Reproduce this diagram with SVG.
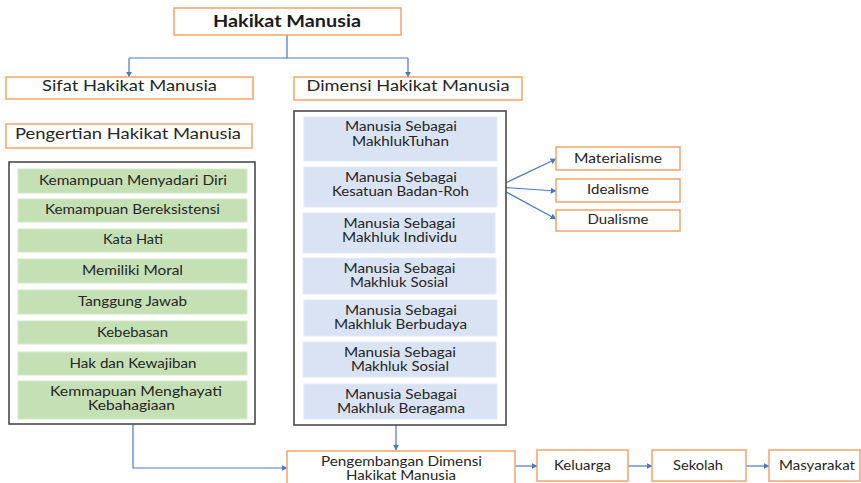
<svg xmlns="http://www.w3.org/2000/svg" width="861" height="483" viewBox="0 0 861 483">
<style>
text{font-family:Lato,"Open Sans","Liberation Sans",sans-serif;font-size:12.5px;fill:#262626;text-anchor:middle}
.t{font-size:16px}
.h{font-size:17px;font-weight:bold;fill:#1a1a1a}
.ob{fill:#fff;stroke:#F4A46A;stroke-width:1.5}
.cb{fill:#fff;stroke:#4a4a4a;stroke-width:1.6}
.gb{fill:#C5E0B4;stroke:#D6E9CA;stroke-width:1}
.bb{fill:#DAE3F3;stroke:#E4EBF7;stroke-width:1}
.c{fill:none;stroke:#4A78C8;stroke-width:1.2}
</style>
<defs>
<marker id="a" viewBox="0 0 10 10" refX="9" refY="5" markerWidth="6" markerHeight="6" orient="auto" markerUnits="userSpaceOnUse"><path d="M0,0 L10,5 L0,10 z" fill="#4A78C8"/></marker>
</defs>

<g id="connectors">
<path class="c" d="M287,35 V58 M129,58 H408"/>
<path class="c" d="M129,58 V77" marker-end="url(#a)"/>
<path class="c" d="M408,58 V77" marker-end="url(#a)"/>
<path class="c" d="M497,187 L556,159" marker-end="url(#a)"/>
<path class="c" d="M497,187 L556,191" marker-end="url(#a)"/>
<path class="c" d="M497,187 L556,219" marker-end="url(#a)"/>
<path class="c" d="M396,425 V450" marker-end="url(#a)"/>
<path class="c" d="M133,424 V468 H287" marker-end="url(#a)"/>
<path class="c" d="M515,466 H537" marker-end="url(#a)"/>
<path class="c" d="M628,466 H652" marker-end="url(#a)"/>
<path class="c" d="M746,466 H769" marker-end="url(#a)"/>
</g>

<g id="hakikat"><rect class="ob" x="174" y="8" width="227" height="27"/><text class="h" x="287" y="27" textLength="148" lengthAdjust="spacingAndGlyphs">Hakikat Manusia</text></g>
<g id="sifat"><rect class="ob" x="6" y="77" width="247" height="22"/><text class="t" x="129.5" y="91" textLength="175" lengthAdjust="spacingAndGlyphs">Sifat Hakikat Manusia</text></g>
<g id="dimensi"><rect class="ob" x="294" y="77" width="228" height="23"/><text class="t" x="408" y="91" textLength="203" lengthAdjust="spacingAndGlyphs">Dimensi Hakikat Manusia</text></g>
<g id="pengertian"><rect class="ob" x="6" y="124" width="246" height="24"/><text class="t" x="128" y="139" textLength="226" lengthAdjust="spacingAndGlyphs">Pengertian  Hakikat Manusia</text></g>

<g id="sifat-list">
<rect class="cb" x="9" y="162" width="246" height="262"/>
<g id="g1"><rect class="gb" x="18" y="169" width="229" height="24"/><text x="133" y="185" textLength="188" lengthAdjust="spacingAndGlyphs">Kemampuan Menyadari Diri</text></g>
<g id="g2"><rect class="gb" x="18" y="199" width="229" height="23"/><text x="132.5" y="214" textLength="175" lengthAdjust="spacingAndGlyphs">Kemampuan Bereksistensi</text></g>
<g id="g3"><rect class="gb" x="18" y="229" width="229" height="23"/><text x="133" y="244" textLength="60" lengthAdjust="spacingAndGlyphs">Kata Hati</text></g>
<g id="g4"><rect class="gb" x="18" y="259" width="229" height="24"/><text x="132.5" y="275" textLength="101" lengthAdjust="spacingAndGlyphs">Memiliki Moral</text></g>
<g id="g5"><rect class="gb" x="18" y="290" width="229" height="24"/><text x="132.5" y="306" textLength="109" lengthAdjust="spacingAndGlyphs">Tanggung Jawab</text></g>
<g id="g6"><rect class="gb" x="18" y="321" width="229" height="23"/><text x="132.5" y="337" textLength="71" lengthAdjust="spacingAndGlyphs">Kebebasan</text></g>
<g id="g7"><rect class="gb" x="18" y="352" width="229" height="23"/><text x="133" y="368" textLength="127" lengthAdjust="spacingAndGlyphs">Hak dan Kewajiban</text></g>
<g id="g8"><rect class="gb" x="18" y="381" width="229" height="38"/><text x="136" y="396" textLength="172" lengthAdjust="spacingAndGlyphs">Kemmapuan Menghayati</text><text x="131.5" y="410" textLength="87" lengthAdjust="spacingAndGlyphs">Kebahagiaan</text></g>
</g>

<g id="dimensi-list">
<rect class="cb" x="294" y="111" width="212" height="314"/>
<g id="b1"><rect class="bb" x="304" y="117" width="193" height="44"/><text x="401" y="131" textLength="112" lengthAdjust="spacingAndGlyphs">Manusia Sebagai</text><text x="400.5" y="146" textLength="97" lengthAdjust="spacingAndGlyphs">MakhlukTuhan</text></g>
<g id="b2"><rect class="bb" x="304" y="167" width="193" height="40"/><text x="401" y="182" textLength="112" lengthAdjust="spacingAndGlyphs">Manusia Sebagai</text><text x="400.5" y="196" textLength="137" lengthAdjust="spacingAndGlyphs">Kesatuan Badan-Roh</text></g>
<g id="b3"><rect class="bb" x="303" y="213" width="192" height="40"/><text x="399.5" y="228" textLength="112" lengthAdjust="spacingAndGlyphs">Manusia Sebagai</text><text x="399.5" y="242" textLength="115" lengthAdjust="spacingAndGlyphs">Makhluk Individu</text></g>
<g id="b4"><rect class="bb" x="303" y="258" width="193" height="36"/><text x="399.5" y="273" textLength="112" lengthAdjust="spacingAndGlyphs">Manusia Sebagai</text><text x="399" y="287" textLength="98" lengthAdjust="spacingAndGlyphs">Makhluk Sosial</text></g>
<g id="b5"><rect class="bb" x="304" y="300" width="193" height="36"/><text x="401" y="315" textLength="112" lengthAdjust="spacingAndGlyphs">Manusia Sebagai</text><text x="400.5" y="329" textLength="133" lengthAdjust="spacingAndGlyphs">Makhluk Berbudaya</text></g>
<g id="b6"><rect class="bb" x="303" y="342" width="193" height="35"/><text x="400" y="357" textLength="112" lengthAdjust="spacingAndGlyphs">Manusia Sebagai</text><text x="400" y="371" textLength="98" lengthAdjust="spacingAndGlyphs">Makhluk Sosial</text></g>
<g id="b7"><rect class="bb" x="304" y="384" width="193" height="35"/><text x="401" y="399" textLength="112" lengthAdjust="spacingAndGlyphs">Manusia Sebagai</text><text x="401" y="413" textLength="128" lengthAdjust="spacingAndGlyphs">Makhluk Beragama</text></g>
</g>

<g id="materialisme"><rect class="ob" x="556" y="147" width="124" height="23"/><text x="618" y="163" textLength="88" lengthAdjust="spacingAndGlyphs">Materialisme</text></g>
<g id="idealisme"><rect class="ob" x="556" y="179" width="124" height="23"/><text x="618" y="194" textLength="62" lengthAdjust="spacingAndGlyphs">Idealisme</text></g>
<g id="dualisme"><rect class="ob" x="556" y="210" width="124" height="21"/><text x="618" y="224" textLength="61" lengthAdjust="spacingAndGlyphs">Dualisme</text></g>

<g id="pengembangan"><rect class="ob" x="287" y="451" width="228" height="36"/><text x="401.5" y="466" textLength="161" lengthAdjust="spacingAndGlyphs">Pengembangan  Dimensi</text><text x="401" y="480" textLength="110" lengthAdjust="spacingAndGlyphs">Hakikat Manusia</text></g>
<g id="keluarga"><rect class="ob" x="537" y="450" width="91" height="31"/><text x="582.5" y="470" textLength="57" lengthAdjust="spacingAndGlyphs">Keluarga</text></g>
<g id="sekolah"><rect class="ob" x="652" y="450" width="94" height="31"/><text x="698" y="470" textLength="50" lengthAdjust="spacingAndGlyphs">Sekolah</text></g>
<g id="masyarakat"><rect class="ob" x="769" y="450" width="91" height="31"/><text x="817" y="470" textLength="76" lengthAdjust="spacingAndGlyphs">Masyarakat</text></g>
</svg>
